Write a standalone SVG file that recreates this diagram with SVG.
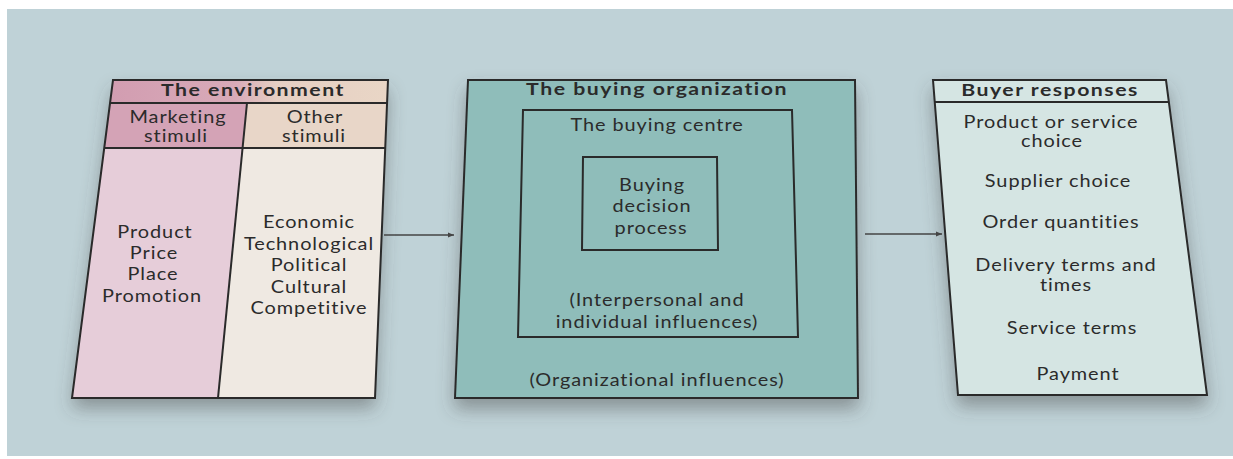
<svg xmlns="http://www.w3.org/2000/svg" width="1233" height="459" viewBox="0 0 1233 459">
<defs>
<style>
.t{font-family:Lato,"Open Sans","Liberation Sans",sans-serif;font-size:17px;fill:#2b2b2b;text-anchor:middle;letter-spacing:0.8px}
.b{font-weight:bold;letter-spacing:1.2px}
.box{stroke:#2a2a2a;stroke-width:2;stroke-linejoin:miter}
.ln{stroke:#2a2a2a;stroke-width:2;fill:none}
.conn{stroke:#444;stroke-width:1.5;fill:none}
</style>
<linearGradient id="envHead" x1="0" y1="0" x2="1" y2="0">
<stop offset="0" stop-color="#d29db1"/>
<stop offset="0.45" stop-color="#d8aab8"/>
<stop offset="0.6" stop-color="#e6cfc3"/>
<stop offset="1" stop-color="#e9d6c6"/>
</linearGradient>
<filter id="sh" x="-10%" y="-10%" width="120%" height="130%">
<feDropShadow dx="0" dy="10" stdDeviation="9" flood-color="#444" flood-opacity="0.45"/>
</filter>
<marker id="ah" viewBox="0 0 10 10" refX="10" refY="5" markerWidth="8" markerHeight="6" orient="auto" markerUnits="userSpaceOnUse">
<path d="M0,1 L10,5 L0,9 z" fill="#444"/>
</marker>
</defs>
<rect x="0" y="0" width="1233" height="459" fill="#ffffff"/>
<rect x="7" y="9" width="1226" height="447" fill="#bfd2d7"/>

<g id="connectors">
<line class="conn" x1="384" y1="235" x2="454" y2="235" marker-end="url(#ah)"/>
<line class="conn" x1="865" y1="234" x2="942" y2="234" marker-end="url(#ah)"/>
</g>

<g id="environment">
<polygon points="113,80 388,80 375,398 72,398" fill="#efe9e2" filter="url(#sh)"/>
<polygon points="113,80 388,80 387,103 110,103" fill="url(#envHead)"/>
<polygon points="110,103 247,103 242.6,148 104.2,148" fill="#d4a3b6"/>
<polygon points="247,103 387,103 385.2,148 242.6,148" fill="#e8d6c8"/>
<polygon points="104.2,148 242.6,148 218,398 72,398" fill="#e6cdd9"/>
<polygon class="box" points="113,80 388,80 375,398 72,398" fill="none"/>
<line class="ln" x1="110" y1="103" x2="387" y2="103"/>
<line class="ln" x1="104.2" y1="148" x2="385.2" y2="148"/>
<line class="ln" x1="247" y1="103" x2="218" y2="398"/>
<text class="t b" transform="translate(253,96) scale(1.25,1)">The environment</text>
<text class="t" transform="translate(178,123) scale(1.17,1)">Marketing</text>
<text class="t" transform="translate(176,142) scale(1.17,1)">stimuli</text>
<text class="t" transform="translate(315,123) scale(1.17,1)">Other</text>
<text class="t" transform="translate(314,142) scale(1.17,1)">stimuli</text>
<text class="t" transform="translate(155,238) scale(1.17,1)">Product</text>
<text class="t" transform="translate(154,259) scale(1.17,1)">Price</text>
<text class="t" transform="translate(153,280) scale(1.17,1)">Place</text>
<text class="t" transform="translate(152,302) scale(1.17,1)">Promotion</text>
<text class="t" transform="translate(309,228) scale(1.17,1)">Economic</text>
<text class="t" transform="translate(309,250) scale(1.17,1)">Technological</text>
<text class="t" transform="translate(309,271) scale(1.17,1)">Political</text>
<text class="t" transform="translate(309,293) scale(1.17,1)">Cultural</text>
<text class="t" transform="translate(309,314) scale(1.17,1)">Competitive</text>
</g>

<g id="buying-organization">
<polygon class="box" points="468,80 855,80 858,398 455,398" fill="#8fbdba" filter="url(#sh)"/>
<text class="t b" transform="translate(657,95) scale(1.25,1)">The buying organization</text>
<text class="t" transform="translate(657,386) scale(1.17,1)">(Organizational influences)</text>
</g>

<g id="buying-centre">
<polygon class="box" points="523,110 792,110 798,337 518,337" fill="none"/>
<text class="t" transform="translate(657,131) scale(1.17,1)">The buying centre</text>
<text class="t" transform="translate(657,306) scale(1.17,1)">(Interpersonal and</text>
<text class="t" transform="translate(657,328) scale(1.17,1)">individual influences)</text>
</g>

<g id="buying-decision-process">
<polygon class="box" points="583,157 717,157 718,250 582,250" fill="none"/>
<text class="t" transform="translate(652,191) scale(1.17,1)">Buying</text>
<text class="t" transform="translate(652,212) scale(1.17,1)">decision</text>
<text class="t" transform="translate(651,234) scale(1.17,1)">process</text>
</g>

<g id="buyer-responses">
<polygon class="box" points="933,80 1166,80 1207,395 958,395" fill="#d5e5e3" filter="url(#sh)"/>
<line class="ln" x1="934.7" y1="102" x2="1168.9" y2="102"/>
<text class="t b" transform="translate(1050,96) scale(1.25,1)">Buyer responses</text>
<text class="t" transform="translate(1051,128) scale(1.17,1)">Product or service</text>
<text class="t" transform="translate(1052,147) scale(1.17,1)">choice</text>
<text class="t" transform="translate(1058,187) scale(1.17,1)">Supplier choice</text>
<text class="t" transform="translate(1061,228) scale(1.17,1)">Order quantities</text>
<text class="t" transform="translate(1066,271) scale(1.17,1)">Delivery terms and</text>
<text class="t" transform="translate(1066,291) scale(1.17,1)">times</text>
<text class="t" transform="translate(1072,334) scale(1.17,1)">Service terms</text>
<text class="t" transform="translate(1078,380) scale(1.17,1)">Payment</text>
</g>
</svg>
